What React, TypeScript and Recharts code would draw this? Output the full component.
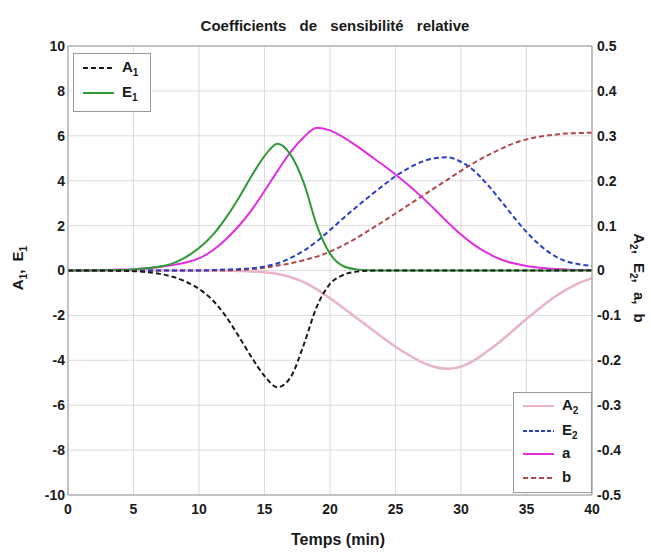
import { CartesianGrid, Line, LineChart, ReferenceLine, XAxis, YAxis } from 'recharts';

// time in minutes
const time = [0, 1, 2, 3, 4, 5, 6, 7, 8, 9, 10, 11, 12, 13, 14, 15, 16, 17, 18, 19, 20, 21, 22, 23, 24, 25, 26, 27, 28, 29, 30, 31, 32, 33, 34, 35, 36, 37, 38, 39, 40];

// left axis series
const A1 = [0, 0, 0, -0.005, -0.01, -0.03, -0.07, -0.15, -0.28, -0.5, -0.82, -1.3, -2.0, -2.9, -3.85, -4.7, -5.2, -4.75, -3.3, -1.6, -0.6, -0.2, -0.05, -0.01, 0, 0, 0, 0, 0, 0, 0, 0, 0, 0, 0, 0, 0, 0, 0, 0, 0];
const E1 = [0, 0, 0.005, 0.01, 0.02, 0.05, 0.1, 0.18, 0.32, 0.6, 1.0, 1.55, 2.3, 3.2, 4.2, 5.1, 5.65, 5.15, 3.9, 2.0, 0.75, 0.2, 0.05, 0.01, 0, 0, 0, 0, 0, 0, 0, 0, 0, 0, 0, 0, 0, 0, 0, 0, 0];

// right axis series
const A2 = [0, 0, 0, 0, 0, 0, 0, 0, 0, 0, 0, 0, 0, -0.001, -0.002, -0.004, -0.008, -0.015, -0.026, -0.042, -0.062, -0.083, -0.105, -0.127, -0.149, -0.17, -0.188, -0.204, -0.215, -0.219, -0.214, -0.2, -0.18, -0.158, -0.133, -0.108, -0.084, -0.062, -0.043, -0.028, -0.017];
const E2 = [0, 0, 0, 0, 0, 0, 0, 0, 0, 0, 0, 0.001, 0.002, 0.003, 0.005, 0.009, 0.016, 0.028, 0.044, 0.065, 0.09, 0.116, 0.141, 0.165, 0.188, 0.21, 0.228, 0.242, 0.25, 0.252, 0.242, 0.222, 0.192, 0.157, 0.12, 0.086, 0.057, 0.035, 0.021, 0.014, 0.01];
const aCoef = [0, 0, 0, 0.001, 0.002, 0.003, 0.005, 0.008, 0.012, 0.018, 0.027, 0.044, 0.068, 0.098, 0.134, 0.177, 0.222, 0.264, 0.297, 0.318, 0.312, 0.297, 0.278, 0.257, 0.236, 0.214, 0.19, 0.164, 0.136, 0.107, 0.08, 0.057, 0.039, 0.025, 0.016, 0.01, 0.006, 0.004, 0.002, 0.001, 0.001];
const bCoef = [0, 0, 0, 0, 0, 0, 0, 0, 0, 0, 0, 0, 0, 0.001, 0.003, 0.006, 0.011, 0.016, 0.023, 0.031, 0.042, 0.056, 0.072, 0.09, 0.108, 0.127, 0.146, 0.165, 0.184, 0.203, 0.222, 0.24, 0.256, 0.27, 0.283, 0.292, 0.298, 0.302, 0.305, 0.306, 0.307];

const xTicks = [0, 5, 10, 15, 20, 25, 30, 35, 40];
const leftTicks = [-10, -8, -6, -4, -2, 0, 2, 4, 6, 8, 10];
const rightTicks = [-0.5, -0.4, -0.3, -0.2, -0.1, 0, 0.1, 0.2, 0.3, 0.4, 0.5];

const FONT = '"Liberation Sans", Arial, sans-serif';
const tickStyle = { fontSize: 14, fontWeight: 'bold', fill: '#1a1a1a', fontFamily: FONT };
const subStyle = { fontSize: 10, verticalAlign: 'baseline', position: 'relative' as const, top: 4 };

const COLORS = {
    A1: '#1a1a1a',
    E1: '#2f9a35',
    A2: '#e8b4c6',
    E2: '#2b3ec4',
    a: '#e02ee0',
    b: '#b04a4a',
};

function LegendRow({ top, color, dash, label, sub }) {
    return (
        <div style={{ position: 'absolute', left: 0, top: top - 10, height: 20, width: '100%' }}>
            <svg width={36} height={20} style={{ position: 'absolute', left: 9, top: 0 }}>
                <line x1={0} y1={10} x2={31} y2={10} stroke={color} strokeWidth={2} strokeDasharray={dash} />
            </svg>
            <span style={{ position: 'absolute', left: 48, top: 0, fontSize: 15, fontWeight: 'bold', fontFamily: FONT, color: '#1a1a1a', lineHeight: '17px' }}>
                {label}
                {sub ? <sub style={subStyle}>{sub}</sub> : null}
            </span>
        </div>
    );
}

export default function App() {
    const data = time.map((t, i) => ({
        t,
        A1: A1[i],
        E1: E1[i],
        A2: A2[i],
        E2: E2[i],
        a: aCoef[i],
        b: bCoef[i],
    }));

    const labelStyle = { fontSize: 15, fontWeight: 'bold' as const, fontFamily: FONT, color: '#1a1a1a' };

    return (
        <div style={{ position: 'absolute', left: 0, top: 0, width: 651, height: 554, background: '#fff' }}>
            <LineChart width={651} height={554} data={data} margin={{ top: 46, right: 0, bottom: 29, left: 0 }}>
                <CartesianGrid yAxisId="left" stroke="#dcdcdc" strokeWidth={1} />
                <XAxis
                    dataKey="t"
                    type="number"
                    domain={[0, 40]}
                    ticks={xTicks}
                    height={30}
                    tick={tickStyle}
                    tickLine={false}
                    tickSize={0}
                    tickMargin={9}
                    axisLine={{ stroke: '#999' }}
                />
                <YAxis
                    yAxisId="left"
                    domain={[-10, 10]}
                    ticks={leftTicks}
                    width={68}
                    tick={tickStyle}
                    tickLine={false}
                    tickSize={0}
                    tickMargin={3}
                    axisLine={{ stroke: '#999' }}
                    allowDataOverflow
                />
                <YAxis
                    yAxisId="right"
                    orientation="right"
                    domain={[-0.5, 0.5]}
                    ticks={rightTicks}
                    width={59}
                    tick={tickStyle}
                    tickLine={false}
                    tickSize={0}
                    tickMargin={5}
                    axisLine={{ stroke: '#999' }}
                    tickFormatter={(v) => (v === 0 ? '0' : String(v))}
                    allowDataOverflow
                />
                <ReferenceLine yAxisId="left" y={10} stroke="#999" />
                <Line yAxisId="right" type="monotone" dataKey="A2" stroke={COLORS.A2} strokeWidth={2.5} dot={false} isAnimationActive={false} />
                <Line yAxisId="right" type="monotone" dataKey="b" stroke={COLORS.b} strokeWidth={2} strokeDasharray="5 3" dot={false} isAnimationActive={false} />
                <Line yAxisId="right" type="monotone" dataKey="E2" stroke={COLORS.E2} strokeWidth={2} strokeDasharray="5 3" dot={false} isAnimationActive={false} />
                <Line yAxisId="right" type="monotone" dataKey="a" stroke={COLORS.a} strokeWidth={2} dot={false} isAnimationActive={false} />
                <Line yAxisId="left" type="monotone" dataKey="E1" stroke={COLORS.E1} strokeWidth={2} dot={false} isAnimationActive={false} />
                <Line yAxisId="left" type="monotone" dataKey="A1" stroke={COLORS.A1} strokeWidth={2} strokeDasharray="5 3" dot={false} isAnimationActive={false} />
            </LineChart>

            <div style={{ position: 'absolute', left: 80, top: 17, width: 510, textAlign: 'center', fontSize: 15, fontWeight: 'bold', fontFamily: FONT, wordSpacing: 9, color: '#1a1a1a' }}>
                Coefficients de sensibilité relative
            </div>
            <div style={{ position: 'absolute', left: 230, top: 531, width: 216, textAlign: 'center', ...labelStyle, fontSize: 16 }}>
                Temps (min)
            </div>
            <div style={{ position: 'absolute', left: 17, top: 268, transform: 'translate(-50%, -50%) rotate(-90deg)', whiteSpace: 'nowrap', ...labelStyle, wordSpacing: 4 }}>
                A<sub style={subStyle}>1</sub>, E<sub style={subStyle}>1</sub>
            </div>
            <div style={{ position: 'absolute', left: 639, top: 278, transform: 'translate(-50%, -50%) rotate(90deg)', whiteSpace: 'nowrap', ...labelStyle, wordSpacing: 5 }}>
                A<sub style={subStyle}>2</sub>, E<sub style={subStyle}>2</sub>, a, b
            </div>

            <div style={{ position: 'absolute', left: 73, top: 53, width: 78, height: 59, border: '1px solid #999', background: '#fff', boxSizing: 'border-box' }}>
                <LegendRow top={14} color={COLORS.A1} dash="5 3" label="A" sub="1" />
                <LegendRow top={39} color={COLORS.E1} label="E" sub="1" />
            </div>

            <div style={{ position: 'absolute', left: 513, top: 392, width: 79, height: 101, border: '1px solid #999', background: '#fff', boxSizing: 'border-box' }}>
                <LegendRow top={13} color={COLORS.A2} label="A" sub="2" />
                <LegendRow top={38} color={COLORS.E2} dash="4 2" label="E" sub="2" />
                <LegendRow top={61} color={COLORS.a} label="a" />
                <LegendRow top={85} color={COLORS.b} dash="5 3" label="b" />
            </div>
        </div>
    );
}
